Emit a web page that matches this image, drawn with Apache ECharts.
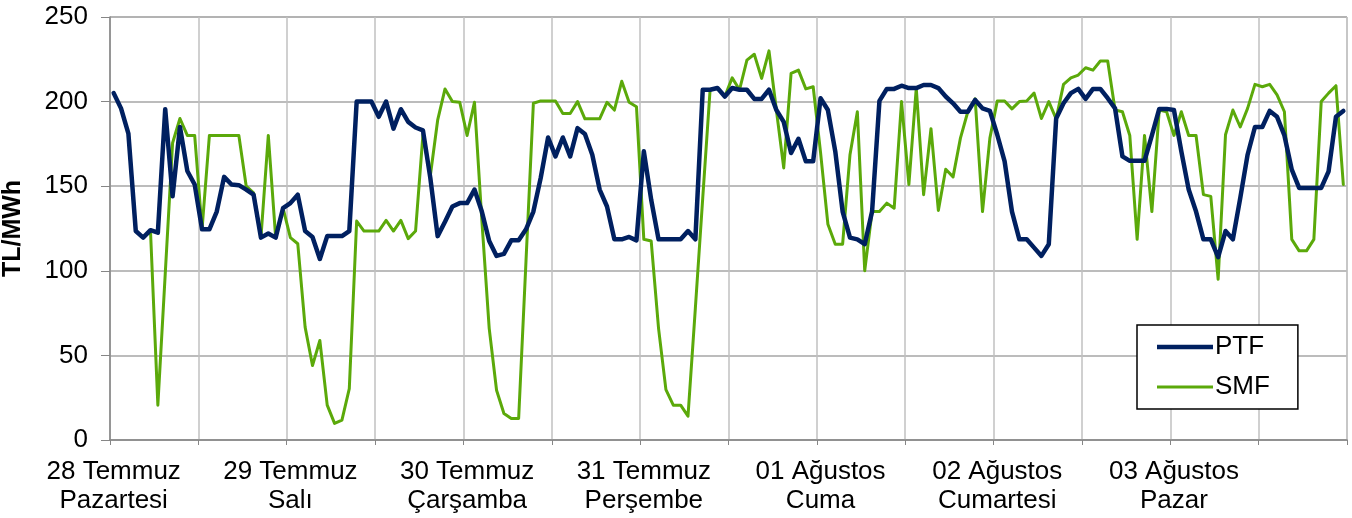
<!DOCTYPE html>
<html>
<head>
<meta charset="utf-8">
<script src="https://cdn.jsdelivr.net/npm/echarts@6/dist/echarts.min.js"></script>
<style>
html,body{margin:0;padding:0;background:#fff;}
#chart{width:1352px;height:518px;}
</style>
</head>
<body>
<div id="chart"></div>
<script>
// Day labels (one per 24 hourly points)
const dayLabels = [
  '28 Temmuz\nPazartesi',
  '29 Temmuz\nSalı',
  '30 Temmuz\nÇarşamba',
  '31 Temmuz\nPerşembe',
  '01 Ağustos\nCuma',
  '02 Ağustos\nCumartesi',
  '03 Ağustos\nPazar'
];
const hoursPerDay = 24;

// PTF hourly values (TL/MWh)
const ptf = [
  205,196,181,123.5,119.6,124,122.5,195.5,144,185,159,151,124.5,124.5,135,155.5,151,150.6,148,145,119.6,122,119.6,137,
  140,145,123.5,120,107,120.5,120.5,120.5,123.5,200,200,200,191,200,184,195.5,188,184.7,183,155,120.5,129,138,140,
  140,148,135,117.6,108.8,110,118,118,124.5,135,155,178.8,167.6,178.8,167.6,184.3,180.8,168.6,148,138,118.6,118.6,120,118,
  170.6,142,118.6,118.6,118.6,118.6,123.5,118.6,207,207,208,203,208,207,207,201.6,201.6,207,195,188,169.6,178,164.7,164.7,
  202,195,170.6,135,119.6,118.6,115.7,135,200.4,207.5,207.5,209.4,208,208,209.8,209.8,208,203,199,194,194,201,196,194.5,
  180.4,164.7,135,118.6,118.6,113.7,108.8,115.7,190,199,205,207.5,201.6,207.5,207.5,202,196,167.6,165,165,165,180,195.7,195.7,
  195,170.6,148,135,118.6,118.6,108,123.5,118.6,143,168.6,185,185,194.5,191,180,159.8,149,149,149,149,158.8,191,194.5
];

// SMF hourly values (TL/MWh)
const smf = [
  205,196,181,123.5,119.6,123.5,20.6,98,175.5,190,180,180,124.5,180,180,180,180,180,150,146,119.6,180,119.6,137,
  119.6,116,66.7,44,58.8,20.6,9.8,11.8,30.4,129.4,123.5,123.5,123.5,129.8,123.5,129.8,119,123.5,180.4,156,189,207.5,200,199.6,
  180,199.6,130,66,29.4,15.7,12.7,12.7,106,199,200.4,200.4,200.4,193,193,200,189.8,189.8,189.8,199.6,195,212,199.6,197,
  118.6,117.6,66,29.8,20.6,20.6,14.1,78,143,207,208,203,214,207,224.5,228,213.7,230,195,160.8,216.7,218.6,207.5,208.8,
  170,127.5,115.7,115.7,168.6,194,100,135,135,140,137,200,151,208,145,184,135.7,160,155.5,178.4,194,201.6,135,178.4,
  200.4,200.4,195.7,200,200.4,205,190,200,189.8,210.2,214,215.7,220,218.6,224,224,195,194,180,118.6,180,135,195,194,
  180,194,180,180,145,144,95,180.4,195,185,196,210.2,208.8,210.2,204,194,118.6,111.8,111.8,118.6,200,205,209.4,151
];

const yTicks = {min: 0, max: 250, interval: 50};

// category per hour
const categories = [];
dayLabels.forEach((d, di) => {
  for (let h = 0; h < hoursPerDay; h++) categories.push(di + '-' + h);
});

const chart = echarts.init(document.getElementById('chart'), null, {renderer: 'canvas'});
const font = "'Liberation Sans', Arial, sans-serif";

chart.setOption({
  animation: false,
  backgroundColor: '#ffffff',
  grid: {
    left: 110, right: 5, top: 17, bottom: 78,
    containLabel: false,
    outerBoundsMode: 'none',
    show: true, borderColor: '#b4b4b4', borderWidth: 1, backgroundColor: 'transparent'
  },
  legend: {
    orient: 'vertical',
    left: 1137, top: 325,
    padding: [9, 28, 9, 20],
    itemGap: 14,
    itemWidth: 56, itemHeight: 15,
    borderColor: '#000', borderWidth: 1.5,
    backgroundColor: '#fff',
    textStyle: {fontFamily: font, fontSize: 26, color: '#000', padding: [0, 0, 0, -3]},
    itemStyle: {borderWidth: 0},
    data: [
      {name: 'PTF', icon: 'path://M0,0H60V5H0Z'},
      {name: 'SMF', icon: 'path://M0,0H60V3H0Z'}
    ]
  },
  xAxis: {
    type: 'category',
    data: categories,
    boundaryGap: true,
    axisLine: {show: true, lineStyle: {color: '#868686', width: 1.5}},
    axisTick: {show: true, interval: 11, length: 5, lineStyle: {color: '#868686'}},
    splitLine: {show: true, interval: 11, lineStyle: {color: '#c0c0c0', width: 1.5}},
    axisLabel: {
      interval: hoursPerDay - 1,
      margin: 17,
      fontFamily: font, fontSize: 26, color: '#000', lineHeight: 29,
      formatter: (v, i) => dayLabels[Math.floor(i / hoursPerDay)]
    }
  },
  yAxis: {
    type: 'value',
    min: yTicks.min, max: yTicks.max, interval: yTicks.interval,
    name: 'TL/MWh',
    nameLocation: 'middle',
    nameRotate: 90,
    nameGap: 84,
    nameTextStyle: {fontFamily: font, fontSize: 25, fontWeight: 'bold', color: '#000'},
    axisLine: {show: true, lineStyle: {color: '#868686', width: 1.5}},
    axisTick: {show: true, length: 9, lineStyle: {color: '#868686'}},
    splitLine: {show: true, lineStyle: {color: '#a6a6a6', width: 1.5}},
    axisLabel: {margin: 22, fontFamily: font, fontSize: 26, color: '#000'}
  },
  series: [
    {
      name: 'SMF', type: 'line', data: smf, symbol: 'none', z: 2,
      color: '#5ba90a',
      lineStyle: {color: '#5ba90a', width: 3, join: 'round', cap: 'round'}
    },
    {
      name: 'PTF', type: 'line', data: ptf, symbol: 'none', z: 3,
      color: '#002060',
      lineStyle: {color: '#002060', width: 4.5, join: 'round', cap: 'round'}
    }
  ]
});
</script>
</body>
</html>
